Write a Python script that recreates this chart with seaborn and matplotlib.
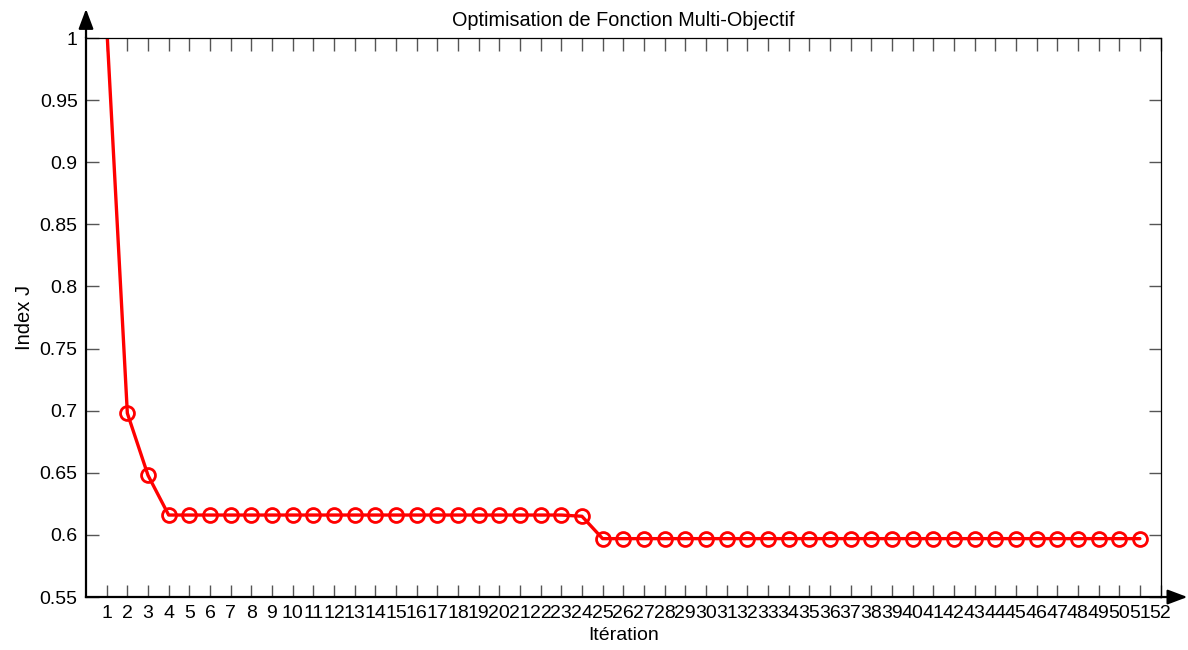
import numpy as np
import pandas as pd
import matplotlib
matplotlib.use("Agg")
import matplotlib.pyplot as plt
import seaborn as sns

# Index J recorded at each iteration of the multi-objective optimisation
iterations = list(range(1, 52))
index_j = ([1.01, 0.698, 0.648]
           + [0.616] * 20
           + [0.615]
           + [0.597] * 27)
x_ticks = list(range(1, 53))
y_ticks = [0.55, 0.6, 0.65, 0.7, 0.75, 0.8, 0.85, 0.9, 0.95, 1.0]
y_tick_labels = ["0.55", "0.6", "0.65", "0.7", "0.75", "0.8", "0.85", "0.9", "0.95", "1"]

sns.set_style("white")
plt.rcParams["font.family"] = ["Liberation Sans", "DejaVu Sans"]
plt.rcParams["text.color"] = "black"
plt.rcParams["axes.labelcolor"] = "black"

df = pd.DataFrame({"Itération": iterations, "Index J": index_j})

fig = plt.figure(figsize=(11.88, 6.5), dpi=100)
ax = fig.add_axes([0.0724, 0.0815, 0.9045, 0.86])

sns.lineplot(data=df, x="Itération", y="Index J", ax=ax, color="#ff0000",
             linewidth=2.4, marker="o", markersize=10, markerfacecolor="none",
             markeredgecolor="#ff0000", markeredgewidth=2.0)

ax.set_xlim(0, 52)
ax.set_ylim(0.55, 1.0)
ax.set_xticks(x_ticks)
ax.set_xticklabels([str(t) for t in x_ticks])
ax.set_yticks(y_ticks)
ax.set_yticklabels(y_tick_labels)

ax.tick_params(axis="both", which="both", direction="in", length=9, width=1.0,
               color="#555555", labelsize=14, labelcolor="black",
               top=True, right=True, bottom=True, left=True, pad=6)

for side in ("left", "bottom"):
    ax.spines[side].set_linewidth(1.6)
    ax.spines[side].set_color("black")
for side in ("top", "right"):
    ax.spines[side].set_linewidth(0.9)
    ax.spines[side].set_color("black")

ax.set_title("Optimisation de Fonction Multi-Objectif", fontsize=14.3, pad=9,
             color="black")
ax.set_xlabel("Itération", fontsize=14, labelpad=3, color="black")
ax.set_ylabel("Index J", fontsize=14.5, labelpad=4, color="black")

# Arrow heads at the ends of the two main axes
arrow = dict(arrowstyle="-|>,head_length=1.2,head_width=0.45", color="black",
             lw=1.6, shrinkA=0, shrinkB=0)
ax.annotate("", xy=(0, 1.052), xytext=(0, 1.0), xycoords="axes fraction",
            textcoords="axes fraction", arrowprops=arrow, annotation_clip=False)
ax.annotate("", xy=(1.025, 0), xytext=(1.0, 0), xycoords="axes fraction",
            textcoords="axes fraction", arrowprops=arrow, annotation_clip=False)

fig.savefig("out.png", dpi=100)
